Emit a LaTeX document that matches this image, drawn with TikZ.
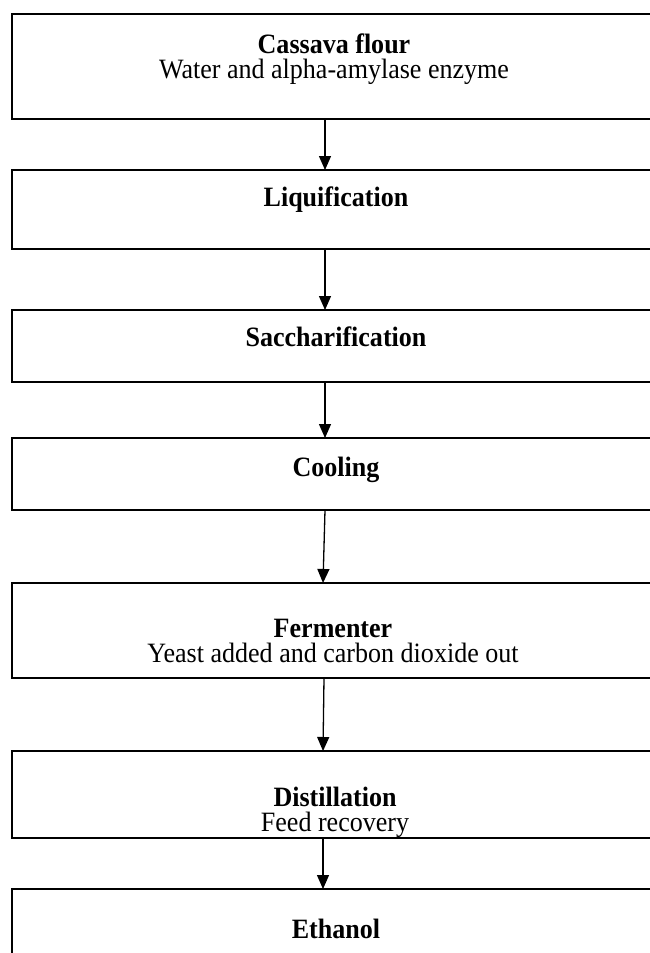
\documentclass[tikz,border=0pt]{standalone}
\usepackage{fontspec}
\setmainfont{Liberation Serif}
\usetikzlibrary{arrows.meta}
\tikzset{
  stage/.style={draw, line width=1.6pt, minimum width=648pt, inner sep=0pt, outer sep=0pt, anchor=north},
  label/.style={font=\fontsize{28}{25.5}\selectfont, align=center, anchor=base, inner sep=0pt, xscale=0.93, transform shape},
  flow/.style={line width=1.3pt, -{Triangle[width=12pt,length=14pt]}}
}
\begin{document}
\begin{tikzpicture}[x=1pt,y=-1pt]
   \useasboundingbox (0,0) rectangle (650,953);
   \clip (0,0) rectangle (650,953);
   % Stages
   \node[stage, minimum height=105pt] (b1) at (336,14) {};
   \node[stage, minimum height=79pt] (b2) at (336,170) {};
   \node[stage, minimum height=72pt] (b3) at (336,310) {};
   \node[stage, minimum height=72pt] (b4) at (336,438) {};
   \node[stage, minimum height=95pt] (b5) at (336,583) {};
   \node[stage, minimum height=87pt] (b6) at (336,751) {};
   \node[stage, minimum height=110pt] (b7) at (336,889) {};
   % Labels
   \node[label] (t1) at (334,78.5) {\textbf{Cassava flour}\\Water and alpha-amylase enzyme};
   \node[label] (t2) at (336,206) {\textbf{Liquification}};
   \node[label] (t3) at (336,346) {\textbf{Saccharification}};
   \node[label] (t4) at (336,476) {\textbf{Cooling}};
   \node[label] (t5) at (333,662.5) {\textbf{Fermenter}\\Yeast added and carbon dioxide out};
   \node[label] (t6) at (335,831.5) {\textbf{Distillation}\\Feed recovery};
   \node[label] (t7) at (336,938) {\textbf{Ethanol}};
   % Arrows
   \draw[flow] ([xshift=-11pt]b1.south) -- ([xshift=-11pt]b2.north);
   \draw[flow] ([xshift=-11pt]b2.south) -- ([xshift=-11pt]b3.north);
   \draw[flow] ([xshift=-11pt]b3.south) -- ([xshift=-11pt]b4.north);
   \draw[flow] ([xshift=-11pt]b4.south) -- ([xshift=-13pt]b5.north);
   \draw[flow] ([xshift=-12pt]b5.south) -- ([xshift=-13pt]b6.north);
   \draw[flow] ([xshift=-13pt]b6.south) -- ([xshift=-13pt]b7.north);
\end{tikzpicture}
\end{document}
